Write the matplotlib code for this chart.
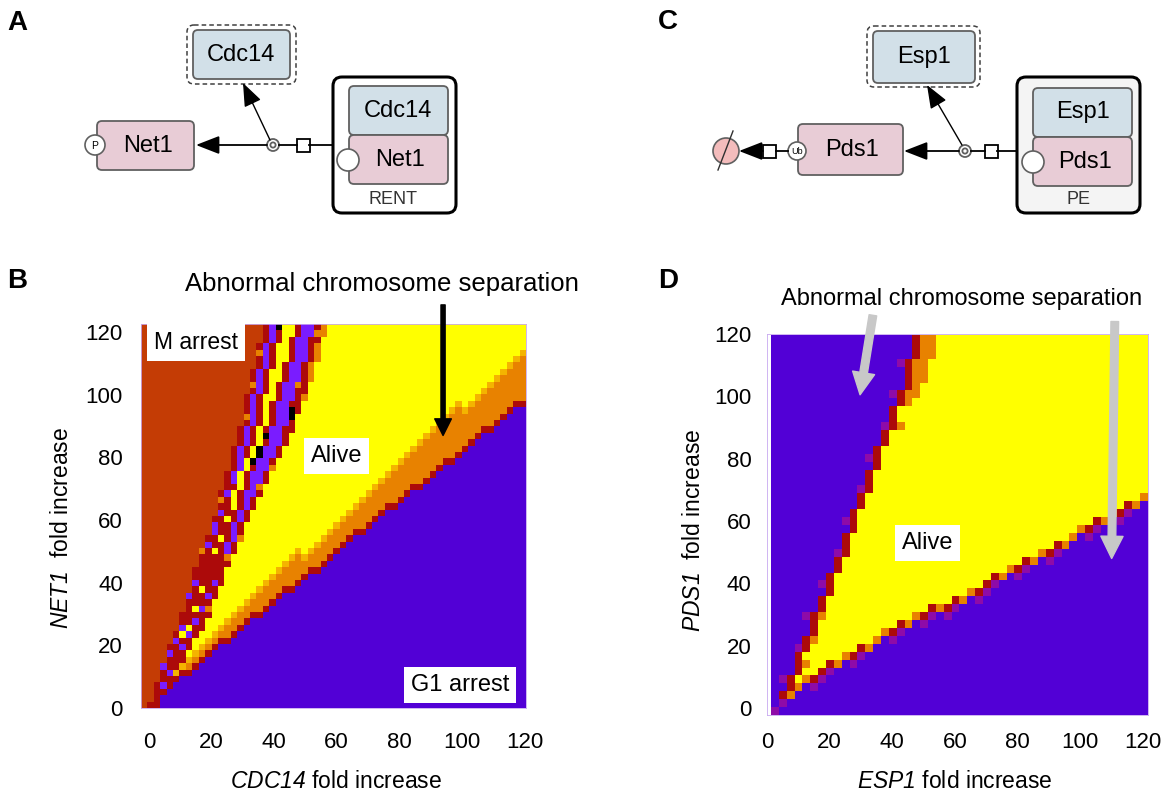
import numpy as np
import matplotlib
matplotlib.use('Agg')
import matplotlib.pyplot as plt
from matplotlib.colors import ListedColormap
from matplotlib.path import Path
from matplotlib.patches import FancyBboxPatch, Circle, Rectangle

plt.rcParams['font.family'] = ['Liberation Sans', 'DejaVu Sans']
# gene names are the only math text: make it all italic (digits included)
plt.rcParams['mathtext.fontset'] = 'custom'
plt.rcParams['mathtext.it'] = 'Liberation Sans:italic'
plt.rcParams['mathtext.rm'] = 'Liberation Sans:italic'
plt.rcParams['mathtext.default'] = 'it'

# ── data ───────────────────────────────────────────────────
TICKS = [0, 20, 40, 60, 80, 100, 120]

# panel B : CDC14 (x) vs NET1 (y), 60x60 grid
B_XLIM = (-2.5, 120.5)
B_YLIM = (0.0, 122.6)
B_N = 60
b_g1_edge = [(-2.5, -1), (2.5, 2.5), (26, 22), (58, 47), (67, 55), (94, 76), (118, 96), (120.5, 97)]
b_orange_top = [(-2.5, 2), (3, 6), (26, 29), (60, 59), (94, 91), (110, 104), (120.5, 116)]
b_m_edge = [(0, 0), (3.5, 12), (10, 28), (14.7, 44), (20.5, 60), (25, 76), (29.6, 92), (33, 108), (37.7, 122.6)]
b_band_edge = [(3, 0), (9, 12), (18.5, 28), (25, 44), (32, 60), (40, 76), (48, 94), (53, 108), (57, 122.6)]
b_black = [(41, 121), (46, 96), (46, 93), (37, 87), (35, 83), (35, 81), (33, 78)]

# panel D : ESP1 (x) vs PDS1 (y), 48x48 grid
D_XLIM = (1.3, 121.6)
D_YLIM = (-2.2, 119.4)
D_N = 48
d_left_edge = [(1, -1), (3, 1), (11.5, 20), (19, 40), (26.5, 60), (34, 80), (42, 100), (47, 119.4)]
d_low_edge = [(3, 1), (20, 12), (41, 24), (62, 34), (83, 45), (104, 57), (115, 63), (121.6, 65.5)]
d_top_band = [(46, 119.4), (55, 119.4), (47, 96), (43, 96)]

# cell classes
PURPLE, DARKRED, ORANGE, AMBER, YELLOW, MRED, VIOLET, BLACK, MAGENTA = range(9)
COLORS = ['#5200D6', '#AC0A0A', '#E88200', '#F4B400', '#FFFF00',
          '#C43C05', '#7A1CFF', '#000000', '#8E0BA8']
cmap = ListedColormap(COLORS)


def centres(lim, n):
    step = (lim[1] - lim[0]) / n
    return lim[0] + step * (np.arange(n) + 0.5)


def inside(poly, X, Y):
    pts = np.c_[X.ravel(), Y.ravel()]
    return Path(poly).contains_points(pts).reshape(X.shape)


def cell_of(x, y, xlim, ylim, n):
    j = int((x - xlim[0]) / (xlim[1] - xlim[0]) * n)
    i = int((y - ylim[0]) / (ylim[1] - ylim[0]) * n)
    return min(max(i, 0), n - 1), min(max(j, 0), n - 1)


# ── grid B ────────────────────────────────────────────────
X, Y = np.meshgrid(centres(B_XLIM, B_N), centres(B_YLIM, B_N))
I, J = np.indices(X.shape)
chk = (I + J) % 2 == 0
gb = np.full(X.shape, YELLOW)

org = inside(b_orange_top + [(130, 120), (130, 97)] + b_g1_edge[::-1], X, Y)
gb[org] = ORANGE
yel = gb == YELLOW
edge = np.zeros_like(yel)
edge[:-1, :] |= org[:-1, :] & yel[1:, :]
edge[1:, :] |= yel[1:, :] & org[:-1, :]
edge[:, 1:] |= org[:, 1:] & yel[:, :-1]
gb[edge & chk] = AMBER

pur = inside(b_g1_edge + [(130, 97), (130, -10), (-10, -10), (-10, -1)], X, Y)
dr = np.zeros_like(pur)
dr[1:, :] |= ~pur[1:, :] & pur[:-1, :]
dr[:, :-1] |= ~pur[:, :-1] & pur[:, 1:]
gb[dr] = DARKRED
gb[pur] = PURPLE

m_reg = inside([(-10, -10), (0, -10)] + b_m_edge + [(37.7, 130), (-10, 130)], X, Y)
gb[m_reg] = MRED
band = inside([(3, -10)] + b_band_edge + [(57, 130), (37.7, 130)] + b_m_edge[::-1] + [(0, -10)], X, Y)
band &= ~m_reg
# stripes across the band: darkred | violet | darkred | yellow | darkred | violet | darkred | orange
zone_codes = [DARKRED, VIOLET, DARKRED, YELLOW, DARKRED, VIOLET, DARKRED, ORANGE]
for i in range(B_N):
    cols = np.where(band[i])[0]
    if len(cols) == 0:
        continue
    w = cols.max() - cols.min() + 1
    t = (cols - cols.min() + 0.5) / w
    z = np.digitize(t, [0.1, 0.25, 0.33, 0.5, 0.6, 0.83, 0.95])
    for j, zz in zip(cols, z):
        c = zone_codes[zz]
        if Y[i, j] < 50 and c == VIOLET and (i + j) % 3:
            c = DARKRED
        if c == DARKRED and zz in (0, 6) and (i + 2 * j) % 7 == 0:
            c = ORANGE
        if c == YELLOW and chk[i, j] and Y[i, j] < 40:
            c = DARKRED
        gb[i, j] = c
for x, y in b_black:
    gb[cell_of(x, y, B_XLIM, B_YLIM, B_N)] = BLACK

# ── grid D ────────────────────────────────────────────────
X, Y = np.meshgrid(centres(D_XLIM, D_N), centres(D_YLIM, D_N))
I, J = np.indices(X.shape)
chk = (I + J) % 2 == 0
gd = np.full(X.shape, PURPLE)
reg = inside(d_left_edge + [(48.5, 130), (130, 130), (130, 67)] + d_low_edge[::-1], X, Y)
gd[reg] = YELLOW
gd[inside(d_top_band, X, Y) & reg] = ORANGE

lb = np.zeros_like(reg)
lb[:, 1:] = reg[:, 1:] & ~reg[:, :-1]
lo = np.zeros_like(reg)
lo[1:, :] = reg[1:, :] & ~reg[:-1, :]
inner = np.zeros_like(reg)
inner[:, 1:] = lb[:, :-1] & reg[:, 1:] & ~lb[:, 1:]
gd[inner & chk & (I % 3 == 0)] = ORANGE
gd[lo & chk] = ORANGE
gd[lo & ~chk] = DARKRED
gd[lb] = DARKRED
out = np.zeros_like(reg)
out[:-1, :] |= ~reg[:-1, :] & reg[1:, :] & chk[:-1, :]
out[:, :-1] |= ~reg[:, :-1] & reg[:, 1:] & (I[:, :-1] % 4 == 0)
gd[out] = MAGENTA
gd[0, 0] = MAGENTA

# ── figure ────────────────────────────────────────────────
fig = plt.figure(figsize=(11.65, 8), dpi=100)
ax0 = fig.add_axes([0, 0, 1, 1])
ax0.set_xlim(0, 1165)
ax0.set_ylim(800, 0)
ax0.axis('off')

BLUE = '#D2E0E8'
PINK = '#E8CCD6'
EDGE = '#606060'


def rbox(x0, y0, x1, y1, fc, ec=EDGE, lw=1.3, ls='-', r=5):
    ax0.add_patch(FancyBboxPatch((x0 + r, y0 + r), x1 - x0 - 2 * r, y1 - y0 - 2 * r,
                                 boxstyle=f'round,pad={r}', fc=fc, ec=ec, lw=lw, ls=ls))


def arrow(tail, tip, lw=1.3):
    ax0.annotate('', xy=tip, xytext=tail,
                 arrowprops=dict(arrowstyle='-|>,head_length=0.9,head_width=0.35', color='black',
                                 lw=lw, shrinkA=0, shrinkB=0, mutation_scale=16))


def node(x, y):
    ax0.add_patch(Circle((x, y), 6, fc='white', ec=EDGE, lw=1.3))
    ax0.add_patch(Circle((x, y), 2.6, fc='white', ec=EDGE, lw=1.3))


def square(x, y):
    ax0.add_patch(Rectangle((x - 6.5, y - 6.5), 13, 13, fc='white', ec='black', lw=1.3))


TXT = 17

# panel A
rbox(187, 25, 296, 84, 'white', ec='#404040', lw=1.1, ls=(0, (3, 2)), r=7)
rbox(193, 30, 290, 79, BLUE)
ax0.text(241, 55, 'Cdc14', ha='center', va='center', fontsize=TXT)
rbox(97, 121, 194, 170, PINK)
ax0.text(148, 146, 'Net1', ha='center', va='center', fontsize=TXT)
ax0.add_patch(Circle((95, 145), 10, fc='white', ec=EDGE, lw=1.2))
ax0.text(95, 146, 'P', ha='center', va='center', fontsize=7.5)
ax0.plot([279, 297], [145, 145], color='black', lw=1.3)
ax0.plot([309, 333], [145, 145], color='black', lw=1.3)
arrow((267, 145), (196, 145))
arrow((270, 140), (243, 83), lw=1.0)
node(273, 145)
square(303, 145)
rbox(333, 77, 456, 213, 'white', ec='black', lw=2.2, r=9)
rbox(349, 86, 448, 135, BLUE)
ax0.text(398, 111, 'Cdc14', ha='center', va='center', fontsize=TXT)
rbox(349, 135, 448, 184, PINK)
ax0.text(400, 160, 'Net1', ha='center', va='center', fontsize=TXT)
ax0.add_patch(Circle((348, 160), 11, fc='white', ec=EDGE, lw=1.2))
ax0.text(393, 200, 'RENT', ha='center', va='center', fontsize=13, color='#333333')

# panel C
rbox(867, 26, 980, 87, 'white', ec='#404040', lw=1.1, ls=(0, (3, 2)), r=7)
rbox(873, 31, 975, 83, BLUE)
ax0.text(924, 57, 'Esp1', ha='center', va='center', fontsize=TXT)
rbox(798, 124, 903, 175, PINK)
ax0.text(852, 150, 'Pds1', ha='center', va='center', fontsize=TXT)
ax0.plot([971, 985], [151, 151], color='black', lw=1.3)
ax0.plot([997, 1017], [151, 151], color='black', lw=1.3)
arrow((959, 151), (904, 151))
arrow((962, 145), (927, 85), lw=1.0)
node(965, 151)
square(991, 151)
ax0.plot([776, 788], [151, 151], color='black', lw=1.3)
ax0.add_patch(Circle((797, 151), 9, fc='white', ec=EDGE, lw=1.2))
ax0.text(797, 152, 'Ub', ha='center', va='center', fontsize=6.5)
square(769, 151)
ax0.add_patch(Circle((726, 151), 13, fc='#F4BCBC', ec=EDGE, lw=1.2))
ax0.plot([733, 718], [131, 170], color='#303030', lw=1.0)
arrow((763, 151), (739, 151))
rbox(1017, 77, 1140, 213, '#F4F4F4', ec='black', lw=2.2, r=9)
rbox(1033, 88, 1132, 137, BLUE)
ax0.text(1083, 112, 'Esp1', ha='center', va='center', fontsize=TXT)
rbox(1033, 137, 1132, 186, PINK)
ax0.text(1085, 162, 'Pds1', ha='center', va='center', fontsize=TXT)
ax0.add_patch(Circle((1033, 162), 11, fc='white', ec=EDGE, lw=1.2))
ax0.text(1079, 200, 'PE', ha='center', va='center', fontsize=13, color='#333333')

# panel letters
for letter, x, y in [('A', 7, 30), ('B', 7, 288), ('C', 658, 29), ('D', 658, 288)]:
    ax0.text(x, y, letter, fontsize=20, fontweight='bold', ha='left', va='baseline')

# axis labels
ax0.text(336, 782, r'$CDC14$ fold increase', ha='center', va='center', fontsize=16.5)
ax0.text(62, 528, r'$NET1$  fold increase', ha='center', va='center', fontsize=16.5, rotation=90)
ax0.text(955, 782, r'$ESP1$ fold increase', ha='center', va='center', fontsize=16.5)
ax0.text(693, 530, r'$PDS1$  fold increase', ha='center', va='center', fontsize=16.5, rotation=90)

# heatmaps
W, H = 1165, 800
ax_b = fig.add_axes([141 / W, (H - 708) / H, 385 / W, 384 / H])
ax_d = fig.add_axes([767 / W, (H - 715) / H, 381 / W, 381 / H])
box = dict(fc='white', ec='none', boxstyle='square,pad=0.3')

for ax, g, xl, yl, xpad, ypad in [(ax_b, gb, B_XLIM, B_YLIM, 17, 13), (ax_d, gd, D_XLIM, D_YLIM, 12, 11)]:
    ax.imshow(g, cmap=cmap, vmin=-0.5, vmax=8.5, origin='lower', interpolation='nearest',
              extent=[xl[0], xl[1], yl[0], yl[1]], aspect='auto')
    ax.set_xlim(*xl)
    ax.set_ylim(*yl)
    ax.set_xticks(TICKS)
    ax.set_yticks(TICKS)
    ax.tick_params(axis='x', length=0, pad=xpad, labelsize=16)
    ax.tick_params(axis='y', length=0, pad=ypad, labelsize=16)
    for sp in ax.spines.values():
        sp.set_color('#C8A8F0')
        sp.set_linewidth(0.6)

ax_b.text(15, 116.8, 'M arrest', ha='center', va='center', fontsize=16.5, bbox=box)
ax_b.text(60, 80.4, 'Alive', ha='center', va='center', fontsize=17, bbox=box)
ax_b.text(99.4, 7.3, 'G1 arrest', ha='center', va='center', fontsize=17, bbox=box)
ax_b.text(74.4, 135.5, 'Abnormal chromosome separation', ha='center', va='center',
          fontsize=18.5, clip_on=False)
ax_b.annotate('', xy=(94, 87), xytext=(94, 128.7), annotation_clip=False,
              arrowprops=dict(arrowstyle='simple,head_length=1.2,head_width=1.2,tail_width=0.3',
                              color='black', shrinkA=0, shrinkB=0, mutation_scale=10))

ax_d.text(51.2, 53, 'Alive', ha='center', va='center', fontsize=17, bbox=box)
ax_d.text(62.2, 131.2, 'Abnormal chromosome separation', ha='center', va='center',
          fontsize=17, clip_on=False)
for tail, tip in [((33.8, 126), (29.7, 100.5)), ((111, 124), (110, 48))]:
    ax_d.annotate('', xy=tip, xytext=tail, annotation_clip=False,
                  arrowprops=dict(arrowstyle='simple,head_length=1.6,head_width=1.6,tail_width=0.55',
                                  color='#C8C8C8', shrinkA=0, shrinkB=0, mutation_scale=10))

fig.savefig('out.png', dpi=100)
